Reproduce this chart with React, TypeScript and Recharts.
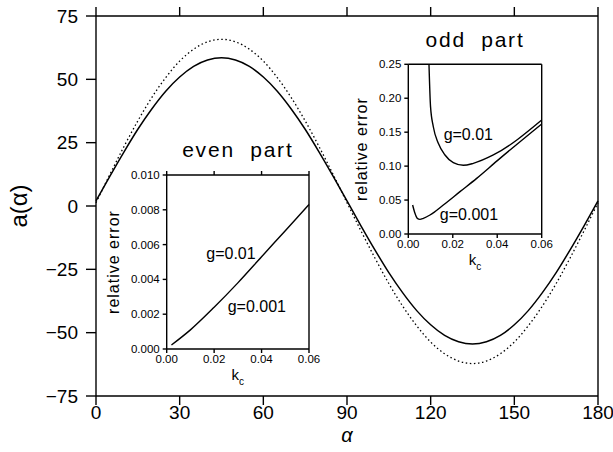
import { LineChart, Line, XAxis, YAxis, ReferenceDot } from "recharts";

// main plot: a(alpha), solid and dotted curves
const ALPHA = [0, 5, 10, 15, 20, 25, 30, 35, 40, 45, 50, 55, 60, 65, 70, 75, 80, 85, 90, 95, 100, 105, 110, 115, 120, 125, 130, 135, 140, 145, 150, 155, 160, 165, 170, 175, 180];
const SOLID = [2, 11.8, 21.3, 30.3, 38.3, 45.3, 50.9, 55.1, 57.6, 58.5, 57.6, 55.1, 50.9, 45.3, 38.3, 30.3, 21.3, 11.8, 2, -7.8, -17.3, -26.3, -34.3, -41.3, -46.9, -51.1, -53.6, -54.5, -53.6, -51.1, -46.9, -41.3, -34.3, -26.3, -17.3, -7.8, 2];
const DOTTED = [1.3, 12.5, 23.4, 33.6, 42.8, 50.7, 57.2, 61.9, 64.8, 65.8, 64.8, 61.9, 57.2, 50.7, 42.8, 33.6, 23.4, 12.5, 1.3, -9.8, -20.5, -30.6, -39.6, -47.3, -53.7, -58.3, -61.2, -62.2, -61.2, -58.3, -53.7, -47.3, -39.6, -30.6, -20.5, -9.8, 1.3];
const ALPHA_TICKS = [0, 30, 60, 90, 120, 150, 180];
const A_TICKS = [-75, -50, -25, 0, 25, 50, 75];

// even part inset (both g curves coincide)
const EVEN_K = [0.002, 0.01, 0.02, 0.03, 0.04, 0.05, 0.06];
const EVEN_ERR = [0.00023, 0.0011, 0.0024, 0.0038, 0.0053, 0.0068, 0.0083];
const EVEN_TICKS = [0, 0.002, 0.004, 0.006, 0.008, 0.01];

// odd part inset
const ODD_K_G01 = [0.0093, 0.01, 0.01125, 0.0135, 0.0165, 0.02025, 0.02475, 0.02925, 0.03825, 0.06];
const ODD_ERR_G01 = [0.25, 0.1876, 0.158, 0.1336, 0.1164, 0.1051, 0.1012, 0.1041, 0.1164, 0.168];
const ODD_K_G001 = [0.00195, 0.003, 0.00405, 0.00525, 0.00675, 0.00975, 0.01575, 0.02325, 0.03075, 0.04005, 0.06];
const ODD_ERR_G001 = [0.0427, 0.0305, 0.0231, 0.0216, 0.0231, 0.028, 0.0427, 0.0624, 0.082, 0.1081, 0.1621];
const ODD_TICKS = [0, 0.05, 0.1, 0.15, 0.2, 0.25];

const K_TICKS = [0, 0.02, 0.04, 0.06];

const FONT = "'Liberation Sans', Arial, sans-serif";
const black = { stroke: "#000", strokeWidth: 1.4 };
const blank = () => "";
const minus = (v: number) => String(v).replace("-", "\u2212");

const mainData = ALPHA.map((a, i) => ({ alpha: a, solid: SOLID[i], dotted: DOTTED[i] }));
const evenData = EVEN_K.map((k, i) => ({ k, err: EVEN_ERR[i] }));
const oddG01 = ODD_K_G01.map((k, i) => ({ k, err: ODD_ERR_G01[i] }));
const oddG001 = ODD_K_G001.map((k, i) => ({ k, err: ODD_ERR_G001[i] }));

function MainYLabel({ viewBox }: any) {
  const cx = viewBox.x - 8;
  const cy = viewBox.y + viewBox.height / 2;
  return (
    <text transform={`translate(${cx},${cy}) rotate(-90)`} textAnchor="middle" dominantBaseline="central" fontSize={24} fill="#000">
      a(α)
    </text>
  );
}

function Title({ viewBox, text }: any) {
  return (
    <text x={viewBox.x + viewBox.width / 2} y={viewBox.y + viewBox.height - 17.8} textAnchor="middle" fontSize={21} fill="#000"
      style={{ whiteSpace: "pre", letterSpacing: 1.8 }} xmlSpace="preserve">
      {text}
    </text>
  );
}

function KcLabel({ viewBox }: any) {
  return (
    <text x={viewBox.x + viewBox.width / 2} y={viewBox.y + 31} textAnchor="middle" fontSize={15} fill="#000">
      k<tspan fontSize={10} dy={5}>c</tspan>
    </text>
  );
}

function ErrLabel({ viewBox, gap }: any) {
  const cx = viewBox.x + viewBox.width - gap;
  const cy = viewBox.y + viewBox.height / 2;
  return (
    <text transform={`translate(${cx},${cy}) rotate(-90)`} textAnchor="middle" dominantBaseline="central" fontSize={16} fill="#000"
      style={{ letterSpacing: 1 }}>
      relative error
    </text>
  );
}

const insetTick = { fill: "#000", fontSize: 11.5 };

export default function App() {
  return (
    <div style={{ position: "absolute", left: 0, top: 0, width: 613, height: 452, background: "#fff", fontFamily: FONT }}>
      <LineChart width={613} height={452} data={mainData} margin={{ top: 6, right: 5, bottom: 10, left: 26 }}>
        <XAxis xAxisId="b" dataKey="alpha" type="number" domain={[0, 180]} ticks={ALPHA_TICKS} height={46}
          tickSize={9} tickMargin={1} axisLine={black} tickLine={black} tick={{ fill: "#000", fontSize: 19 }}
          label={{ value: "α", position: "insideBottom", offset: 0, fontSize: 20, fill: "#000", fontStyle: "italic" }} />
        <XAxis xAxisId="t" orientation="top" dataKey="alpha" type="number" domain={[0, 180]} ticks={ALPHA_TICKS} height={10}
          tickSize={9} axisLine={black} tickLine={black} tickFormatter={blank} />
        <YAxis yAxisId="l" type="number" domain={[-75, 75]} ticks={A_TICKS} width={70} tickSize={10} tickMargin={8}
          axisLine={black} tickLine={black} tick={{ fill: "#000", fontSize: 19 }} tickFormatter={minus}
          label={<MainYLabel />} />
        <YAxis yAxisId="r" orientation="right" type="number" domain={[-75, 75]} ticks={A_TICKS} width={10} tickSize={10}
          axisLine={black} tickLine={black} tickFormatter={blank} />
        <Line xAxisId="b" yAxisId="l" dataKey="dotted" type="monotone" stroke="#000" strokeWidth={1.3} strokeDasharray="1.5 2.6"
          dot={false} isAnimationActive={false} />
        <Line xAxisId="b" yAxisId="l" dataKey="solid" type="monotone" stroke="#000" strokeWidth={1.5}
          dot={false} isAnimationActive={false} />
      </LineChart>

      <div style={{ position: "absolute", left: 100, top: 125 }}>
        <LineChart width={230} height={267} data={evenData} margin={{ top: 45, right: 16, bottom: 7, left: 16.7 }}>
          <XAxis xAxisId="b" dataKey="k" type="number" domain={[0, 0.06]} ticks={K_TICKS} height={36} tickSize={4} tickMargin={2}
            axisLine={black} tickLine={black} tick={insetTick} tickFormatter={(v: number) => v.toFixed(2)} label={<KcLabel />} />
          <XAxis xAxisId="t" orientation="top" dataKey="k" type="number" domain={[0, 0.06]} ticks={K_TICKS} height={5} tickSize={4}
            axisLine={black} tickLine={black} tickFormatter={blank} label={<Title text="even  part" />} />
          <YAxis yAxisId="l" type="number" domain={[0, 0.01]} ticks={EVEN_TICKS} width={50} tickSize={4} tickMargin={3}
            axisLine={black} tickLine={black} tick={insetTick} tickFormatter={(v: number) => v.toFixed(3)}
            label={<ErrLabel gap={53} />} />
          <YAxis yAxisId="r" orientation="right" type="number" domain={[0, 0.01]} ticks={EVEN_TICKS} width={5} tickSize={4}
            axisLine={black} tickLine={black} tickFormatter={blank} />
          <Line xAxisId="b" yAxisId="l" dataKey="err" type="monotone" stroke="#000" strokeWidth={1.4} dot={false} isAnimationActive={false} />
          <ReferenceDot xAxisId="b" yAxisId="l" x={0.0271} y={0.0055} r={1} fill="none" stroke="none"
            label={{ value: "g=0.01", position: "center", fontSize: 16, fill: "#000" }} />
          <ReferenceDot xAxisId="b" yAxisId="l" x={0.038} y={0.00247} r={1} fill="none" stroke="none"
            label={{ value: "g=0.001", position: "center", fontSize: 16, fill: "#000" }} />
        </LineChart>
      </div>

      <div style={{ position: "absolute", left: 350, top: 15 }}>
        <LineChart width={210} height={260} margin={{ top: 44.3, right: 13.3, bottom: 11, left: 8.3 }}>
          <XAxis xAxisId="b" dataKey="k" type="number" domain={[0, 0.06]} ticks={K_TICKS} height={30} tickSize={4} tickMargin={2}
            axisLine={black} tickLine={black} tick={insetTick} tickFormatter={(v: number) => v.toFixed(2)} label={<KcLabel />} />
          <XAxis xAxisId="t" orientation="top" dataKey="k" type="number" domain={[0, 0.06]} ticks={K_TICKS} height={5} tickSize={4}
            axisLine={black} tickLine={black} tickFormatter={blank} label={<Title text="odd  part" />} />
          <YAxis yAxisId="l" type="number" domain={[0, 0.25]} ticks={ODD_TICKS} width={50} tickSize={4} tickMargin={3}
            axisLine={black} tickLine={black} tick={insetTick} tickFormatter={(v: number) => v.toFixed(2)} allowDataOverflow
            label={<ErrLabel gap={47} />} />
          <YAxis yAxisId="r" orientation="right" type="number" domain={[0, 0.25]} ticks={ODD_TICKS} width={5} tickSize={4}
            axisLine={black} tickLine={black} tickFormatter={blank} />
          <Line xAxisId="b" yAxisId="l" data={oddG01} dataKey="err" type="monotone" stroke="#000" strokeWidth={1.4} dot={false} isAnimationActive={false} />
          <Line xAxisId="b" yAxisId="l" data={oddG001} dataKey="err" type="monotone" stroke="#000" strokeWidth={1.4} dot={false} isAnimationActive={false} />
          <ReferenceDot xAxisId="b" yAxisId="l" x={0.027} y={0.147} r={1} fill="none" stroke="none"
            label={{ value: "g=0.01", position: "center", fontSize: 16, fill: "#000" }} />
          <ReferenceDot xAxisId="b" yAxisId="l" x={0.0273} y={0.0295} r={1} fill="none" stroke="none"
            label={{ value: "g=0.001", position: "center", fontSize: 16, fill: "#000" }} />
        </LineChart>
      </div>
    </div>
  );
}
